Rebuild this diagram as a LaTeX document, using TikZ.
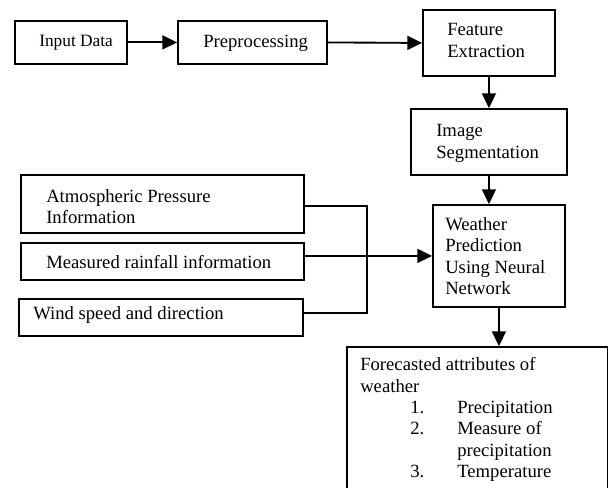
\documentclass[tikz,border=0pt]{standalone}
\usepackage{fontspec}
\setmainfont{Liberation Serif}
\usetikzlibrary{arrows.meta}
\begin{document}
\begin{tikzpicture}[x=0.75pt,y=-0.75pt,
  box/.style={draw, line width=1.4pt, inner sep=0pt, anchor=north west},
  txt/.style={inner sep=0pt, font=\fontsize{14}{16}\selectfont, align=left},
  conn/.style={line width=1.4pt},
  arr/.style={line width=1.4pt, -{Triangle[length=11pt,width=10.5pt]}}]
\path[use as bounding box] (0,0) rectangle (608,488);
\clip (0,0) rectangle (608,488);
% boxes
\node[box, minimum width=84pt,     minimum height=32.25pt] (inp)  at (14,20)  {};
\node[box, minimum width=111.75pt, minimum height=32.25pt] (pre)  at (177,20) {};
\node[box, minimum width=99pt,     minimum height=49.5pt]  (feat) at (422,9)  {};
\node[box, minimum width=117pt,    minimum height=49.5pt]  (img)  at (410,108) {};
\node[box, minimum width=99pt,     minimum height=76.5pt]  (wea)  at (432,204) {};
\node[box, minimum width=212.25pt, minimum height=43.5pt]  (atm)  at (20,174) {};
\node[box, minimum width=212.25pt, minimum height=27.75pt] (meas) at (20,242) {};
\node[box, minimum width=213pt,    minimum height=27.75pt] (wind) at (18,298) {};
\node[box, minimum width=195.75pt, minimum height=120pt]   (fc)   at (346,346) {};
% texts
\node[txt, font=\fontsize{13}{15}\selectfont, anchor=base west] (inpT) at (39,47) {Input Data};
\node[txt, anchor=base west] (preT) at (203,48) {Preprocessing};
\node[txt, anchor=north west] (featT) at (447,23.3) {Feature\\Extraction};
\node[txt, anchor=north west] (imgT) at (436,124.3) {Image\\Segmentation};
\node[txt, anchor=north west] (weaT) at (445,217.3) {Weather\\Prediction\\Using Neural\\Network};
\node[txt, anchor=north west] (atmT) at (46,189.3) {Atmospheric Pressure\\Information};
\node[txt, anchor=base west] (measT) at (46,269) {Measured rainfall information};
\node[txt, anchor=base west] (windT) at (33,320) {Wind speed and direction};
\node[txt, anchor=north west] (fcT) at (360,357.3) {Forecasted attributes of\\weather\\
\hspace*{37.5pt}\makebox[35.25pt][l]{1.}Precipitation\\
\hspace*{37.5pt}\makebox[35.25pt][l]{2.}Measure of\\
\hspace*{72.75pt}precipitation\\
\hspace*{37.5pt}\makebox[35.25pt][l]{3.}Temperature};
% connectors
\coordinate (busT) at (367,206);
\coordinate (busB) at (367,313);
\draw[arr] (inp.east) -- (pre.west);
\draw[arr] (pre.east) -- (feat.west);
\draw[arr] (feat.south) -- (img.north);
\draw[arr] (img.south) -- (img.south |- wea.north);
\draw[arr] (wea.south) -- (wea.south |- fc.north);
\draw[conn] (atm.east |- busT) -- (busT) -- (busB) -- (wind.east |- busB);
\draw[arr] (meas.east |- wea.west) -- (wea.west);
\end{tikzpicture}
\end{document}
